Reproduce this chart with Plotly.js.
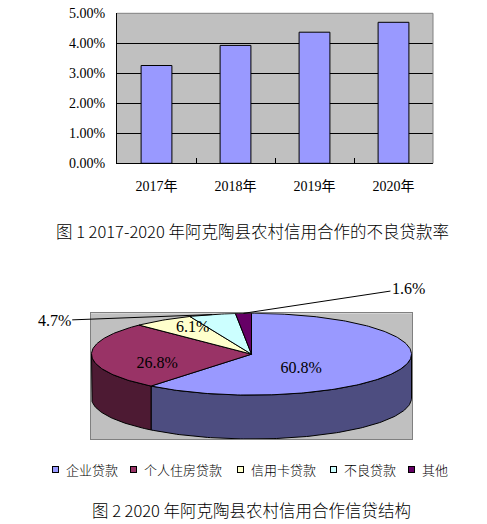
<!DOCTYPE html>
<html><head><meta charset="utf-8">
<script src="https://cdn.plot.ly/plotly-3.0.1.min.js"></script>
<style>html,body{margin:0;padding:0;background:#fff;}#chart{width:487px;height:524px;}</style>
</head><body><div id="chart"></div>
<script>
// ---- Figure 1: non-performing loan ratio by year ----
const years = ['2017年', '2018年', '2019年', '2020年'];
const nplRates = [0.0326, 0.0393, 0.0437, 0.0470];

// ---- Figure 2: 2020 credit structure (%) ----
const loanTypes = ['企业贷款', '个人住房贷款', '信用卡贷款', '不良贷款', '其他'];
const loanShares = [60.8, 26.8, 6.1, 4.7, 1.6];
const topColors = ['#9999FF', '#993366', '#FFFFCC', '#CCFFFF', '#660066'];
const sideColors = ['#4D4D80', '#4D1A33', '#80806A', '#6A8080', '#330033'];

const caption1 = '图 1 2017-2020 年阿克陶县农村信用合作的不良贷款率';
const caption2 = '图 2 2020 年阿克陶县农村信用合作信贷结构';

// ---- style constants ----
const W = 487, H = 524;
const NUMFONT = 'Liberation Serif, Noto Sans CJK SC, serif';
const CJK = 'Noto Sans CJK SC, sans-serif';
const RX = 160, RY = 41, DEPTH = 44;

function pt(deg, drop) {
  const r = deg * Math.PI / 180;
  return [RX * Math.sin(r), RY * Math.cos(r) - (drop || 0)];
}
function arc(a0, a1, drop) {
  const n = Math.max(2, Math.ceil(Math.abs(a1 - a0)));
  const out = [];
  for (let i = 0; i <= n; i++) out.push(pt(a0 + (a1 - a0) * i / n, drop));
  return out;
}
function poly(points, color, name) {
  return {
    type: 'scatter', mode: 'lines', xaxis: 'x2', yaxis: 'y2',
    x: points.map(p => p[0]), y: points.map(p => p[1]),
    fill: 'toself', fillcolor: color, line: {color: '#000', width: 1},
    showlegend: false, hoverinfo: 'skip', name: name || ''
  };
}

const total = loanShares.reduce((a, b) => a + b, 0);
const angles = [];
let acc = 0;
loanShares.forEach(v => { const a0 = acc / total * 360; acc += v; angles.push([a0, acc / total * 360]); });

const traces = [];
// bar chart
traces.push({
  type: 'bar', x: years, y: nplRates, xaxis: 'x', yaxis: 'y',
  marker: {color: '#9999FF', line: {color: '#000', width: 1}},
  showlegend: false, hoverinfo: 'x+y'
});

// 3D pie: visible front side walls
angles.forEach(([a0, a1], i) => {
  const s0 = Math.max(a0, 90), s1 = Math.min(a1, 270);
  if (s1 > s0) {
    const pts = arc(s0, s1, 0).concat(arc(s1, s0, DEPTH));
    pts.push(pts[0]);
    traces.push(poly(pts, sideColors[i], loanTypes[i]));
  }
});
// top faces
angles.forEach(([a0, a1], i) => {
  const pts = [[0, 0]].concat(arc(a0, a1, 0), [[0, 0]]);
  traces.push(poly(pts, topColors[i], loanTypes[i]));
});

// labels
const inX = [], inY = [], inT = [];
const annotations = [];
const leaderOffsets = {3: [-158, 6], 4: [165, -25]};
angles.forEach(([a0, a1], i) => {
  const label = loanShares[i].toFixed(1) + '%';
  const mid = (a0 + a1) / 2;
  if (loanShares[i] >= 5) {
    const alpha = (a1 - a0) * Math.PI / 180;
    const d = 4 * Math.sin(alpha / 2) / (3 * alpha);
    const m = mid * Math.PI / 180;
    inX.push(RX * d * Math.sin(m));
    inY.push(RY * d * Math.cos(m) * 1.5 - 8);
    inT.push(label);
  } else {
    const p = pt(mid, 0);
    const off = leaderOffsets[i] || [0, -30];
    annotations.push({
      xref: 'x2', yref: 'y2', x: p[0], y: p[1], ax: off[0], ay: off[1],
      text: label, showarrow: true, arrowhead: 0, arrowwidth: 1, arrowcolor: '#000',
      standoff: 0, startstandoff: 0,
      font: {family: NUMFONT, size: 16, color: '#000'}
    });
  }
});
traces.push({
  type: 'scatter', mode: 'text', xaxis: 'x2', yaxis: 'y2',
  x: inX, y: inY, text: inT, textposition: 'middle center',
  textfont: {family: NUMFONT, size: 16, color: '#000'},
  showlegend: false, hoverinfo: 'skip', cliponaxis: false
});

// legend (drawn as annotations)
let lx = 52;
const ly = 1 - 469 / H;
loanTypes.forEach((name, i) => {
  annotations.push({
    xref: 'paper', yref: 'paper', x: (lx + 3.5) / W, y: ly, xanchor: 'center', yanchor: 'middle',
    text: ' ', showarrow: false, width: 5, height: 5, borderpad: 0,
    bgcolor: topColors[i], bordercolor: '#000', borderwidth: 1, font: {size: 4}
  });
  annotations.push({
    xref: 'paper', yref: 'paper', x: (lx + 12) / W, y: ly, xanchor: 'left', yanchor: 'middle',
    text: name, showarrow: false, font: {family: CJK, size: 13, color: '#000', weight: 300}
  });
  lx += 13 + name.length * 14.2 + 8.5;
});

// captions
annotations.push({
  xref: 'paper', yref: 'paper', x: 252.5 / W, y: 1 - 231 / H, xanchor: 'center', yanchor: 'middle',
  text: caption1, showarrow: false, font: {family: CJK, size: 16.5, color: '#000', weight: 300}
});
annotations.push({
  xref: 'paper', yref: 'paper', x: 251 / W, y: 1 - 510 / H, xanchor: 'center', yanchor: 'middle',
  text: caption2, showarrow: false, font: {family: CJK, size: 16.5, color: '#000', weight: 300}
});

const layout = {
  width: W, height: H,
  margin: {l: 0, r: 0, t: 0, b: 0},
  paper_bgcolor: '#FFFFFF', plot_bgcolor: '#C0C0C0',
  showlegend: false,
  bargap: 0.61,
  xaxis: {
    domain: [117 / W, 433 / W], type: 'category',
    showline: true, linecolor: '#000', linewidth: 1,
    ticks: 'inside', tickson: 'boundaries', ticklen: 5, tickcolor: '#000',
    tickfont: {family: NUMFONT, size: 14, color: '#000'},
    ticklabelstandoff: 10, showgrid: false, fixedrange: true
  },
  yaxis: {
    domain: [1 - 163.3 / H, 1 - 13.3 / H], range: [0, 0.05], dtick: 0.01, tickformat: '.2%',
    showline: true, linecolor: '#000', linewidth: 1,
    ticks: 'inside', ticklen: 5, tickcolor: '#000',
    gridcolor: '#000', gridwidth: 1, zeroline: false,
    tickfont: {family: NUMFONT, size: 14, color: '#000'},
    ticklabelstandoff: 8, fixedrange: true
  },
  xaxis2: {
    domain: [91 / W, 412 / W], range: [-160.5, 160.5], anchor: 'y2',
    showline: true, mirror: true, linecolor: '#808080', linewidth: 1,
    showgrid: false, zeroline: false, showticklabels: false, ticks: '', fixedrange: true
  },
  yaxis2: {
    domain: [1 - 439 / H, 1 - 313.3 / H], range: [-85, 41], anchor: 'x2',
    showline: true, mirror: true, linecolor: '#808080', linewidth: 1,
    showgrid: false, zeroline: false, showticklabels: false, ticks: '', fixedrange: true
  },
  shapes: [
    {type: 'line', xref: 'x domain', yref: 'y domain', x0: 0, x1: 1, y0: 1, y1: 1,
     line: {color: '#808080', width: 1}, layer: 'above'},
    {type: 'line', xref: 'x domain', yref: 'y domain', x0: 1, x1: 1, y0: 0, y1: 1,
     line: {color: '#808080', width: 1}, layer: 'above'}
  ],
  annotations: annotations
};

Plotly.newPlot('chart', traces, layout, {displayModeBar: false, staticPlot: true});
</script>
</body></html>
